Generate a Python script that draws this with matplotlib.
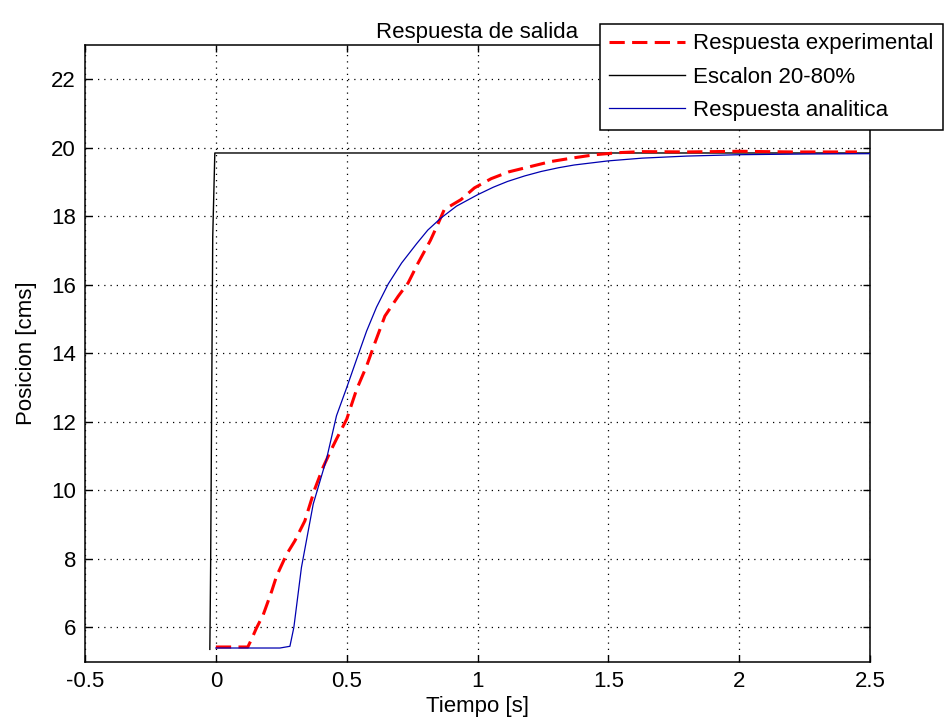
import matplotlib
matplotlib.use("Agg")
import matplotlib.pyplot as plt

plt.rcParams['font.family'] = ['Liberation Sans', 'DejaVu Sans']

# Experimental response (red dashed)
t_exp = [0, 0.122, 0.136, 0.155, 0.181, 0.213, 0.232, 0.27, 0.302, 0.34, 0.378, 0.41,
         0.436, 0.461, 0.5, 0.538, 0.576, 0.608, 0.646, 0.697, 0.735, 0.773, 0.82, 0.85,
         0.873, 0.937, 0.988, 1.052, 1.12, 1.2, 1.28, 1.36, 1.449, 1.54, 1.63, 1.8, 2.0,
         2.2, 2.45]
y_exp = [5.43, 5.43, 5.65, 5.98, 6.37, 7.05, 7.5, 8.13, 8.53, 9.11, 10.04, 10.68,
         11.11, 11.5, 12.08, 12.95, 13.63, 14.31, 15.09, 15.67, 16.06, 16.64, 17.3, 17.8,
         18.2, 18.49, 18.83, 19.1, 19.3, 19.45, 19.6, 19.7, 19.8, 19.86, 19.89, 19.88, 19.9,
         19.88, 19.88]

# Step 20-80% (black)
t_step = [-0.023, -0.02, -0.012, -0.004, 2.5]
y_step = [5.36, 7.8, 17.4, 19.85, 19.85]

# Analytic response (blue)
t_an = [0, 0.245, 0.283, 0.298, 0.327, 0.372, 0.423, 0.461, 0.5, 0.538, 0.576, 0.614,
        0.659, 0.71, 0.767, 0.81, 0.86, 0.92, 1.0, 1.06, 1.115, 1.18, 1.243, 1.31, 1.37,
        1.5, 1.63, 1.8, 2.0, 2.25, 2.5]
y_an = [5.40, 5.40, 5.45, 6.0, 7.75, 9.6, 10.92, 12.18, 13.0, 13.83, 14.65, 15.35,
        16.03, 16.64, 17.2, 17.6, 17.95, 18.3, 18.63, 18.85, 19.02, 19.18, 19.31, 19.42,
        19.5, 19.62, 19.70, 19.76, 19.8, 19.82, 19.83]

labels = ["Respuesta experimental", "Escalon 20-80%", "Respuesta analitica"]
xticks = [-0.5, 0, 0.5, 1, 1.5, 2, 2.5]
xticklabels = ["-0.5", "0", "0.5", "1", "1.5", "2", "2.5"]
yticks = [6, 8, 10, 12, 14, 16, 18, 20, 22]

FS = 16

fig = plt.figure(figsize=(9.47, 7.27), dpi=100)
ax = fig.add_axes([0.0898, 0.0898, 0.9187 - 0.0898, 0.938 - 0.0898])

ax.plot(t_exp, y_exp, color='#ff0000', lw=2.2, dashes=(5.0, 2.4), label=labels[0], zorder=3)
ax.plot(t_step, y_step, color='black', lw=1.0, label=labels[1], zorder=2)
ax.plot(t_an, y_an, color='#0000b0', lw=0.9, label=labels[2], zorder=4)

ax.set_xlim(-0.5, 2.5)
ax.set_ylim(5, 23)
ax.set_xticks(xticks)
ax.set_xticklabels(xticklabels)
ax.set_yticks(yticks)
ax.tick_params(direction='in', length=5, width=1.0, top=True, right=True,
               labelsize=FS, pad=6.5, colors='black')
ax.grid(True, linestyle=(0, (1, 4)), color='black', linewidth=0.9)
for s in ax.spines.values():
    s.set_linewidth(1.1)

ax.set_title("Respuesta de salida", fontsize=FS, pad=5)
ax.set_xlabel("Tiempo [s]", fontsize=FS, labelpad=3)
ax.set_ylabel("Posicion [cms]", fontsize=FS, labelpad=10)

leg = ax.legend(loc='upper left', bbox_to_anchor=(600 / 947, 1 - 24 / 727),
                bbox_transform=fig.transFigure, borderaxespad=0, fontsize=FS,
                handlelength=3.4, handletextpad=0.36, labelspacing=0.55,
                borderpad=0.42, fancybox=False, framealpha=1, edgecolor='black')
leg.get_frame().set_linewidth(1.1)

fig.savefig("out.png", dpi=100)
